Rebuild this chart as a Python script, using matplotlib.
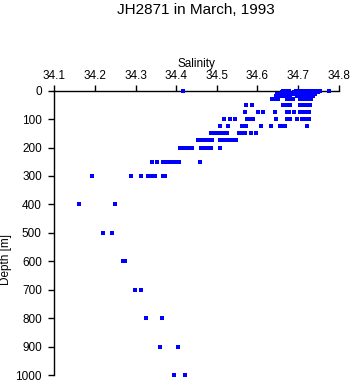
import numpy as np
import matplotlib.pyplot as plt

plt.rcParams['font.family'] = ['Liberation Sans', 'DejaVu Sans']

# Salinity samples, grouped by standard depth (m)
sal_0 = [34.417, 34.664, 34.673, 34.677, 34.694, 34.698, 34.708, 34.715, 34.722,
         34.730, 34.738, 34.745, 34.754, 34.775]
sal_5 = [34.660, 34.668, 34.690, 34.703, 34.712, 34.720, 34.728, 34.736, 34.748]
sal_10 = [34.647, 34.655, 34.675, 34.683, 34.691, 34.700, 34.713, 34.720, 34.727,
          34.734, 34.742]
sal_20 = [34.646, 34.656, 34.661, 34.665, 34.673, 34.680, 34.698, 34.708, 34.715,
          34.722, 34.729, 34.737]
sal_30 = [34.635, 34.643, 34.651, 34.672, 34.680, 34.688, 34.705, 34.712, 34.719,
          34.726, 34.733]
sal_50 = [34.572, 34.586, 34.664, 34.672, 34.680, 34.705, 34.712, 34.718, 34.724,
          34.729]
sal_75 = [34.570, 34.602, 34.614, 34.644, 34.673, 34.678, 34.691, 34.705, 34.711,
          34.717, 34.724, 34.727]
sal_100 = [34.518, 34.532, 34.545, 34.574, 34.581, 34.588, 34.645, 34.672, 34.680,
           34.697, 34.709, 34.715, 34.721, 34.728]
sal_125 = [34.508, 34.528, 34.561, 34.568, 34.573, 34.609, 34.634, 34.655, 34.662,
           34.669, 34.721]
sal_150 = [34.486, 34.494, 34.500, 34.509, 34.516, 34.524, 34.555, 34.562, 34.570,
           34.584, 34.597]
sal_175 = [34.454, 34.460, 34.466, 34.471, 34.479, 34.487, 34.508, 34.515, 34.523,
           34.530, 34.537, 34.547]
sal_200 = [34.410, 34.416, 34.422, 34.428, 34.434, 34.440, 34.462, 34.468, 34.474,
           34.480, 34.485, 34.508]
sal_250 = [34.341, 34.354, 34.368, 34.375, 34.383, 34.390, 34.397, 34.406, 34.459]
sal_300 = [34.194, 34.289, 34.313, 34.330, 34.336, 34.343, 34.349, 34.368, 34.373]
sal_400 = [34.162, 34.250]
sal_500 = [34.221, 34.243]
sal_600 = [34.270, 34.273]
sal_700 = [34.299, 34.314]
sal_800 = [34.326, 34.365]
sal_900 = [34.361, 34.405]
sal_1000 = [34.395, 34.422]

depths = [0, 5, 10, 20, 30, 50, 75, 100, 125, 150, 175, 200, 250, 300,
          400, 500, 600, 700, 800, 900, 1000]
samples = [sal_0, sal_5, sal_10, sal_20, sal_30, sal_50, sal_75, sal_100, sal_125,
           sal_150, sal_175, sal_200, sal_250, sal_300, sal_400, sal_500, sal_600,
           sal_700, sal_800, sal_900, sal_1000]

sal = np.concatenate([np.array(s) for s in samples])
dep = np.concatenate([np.full(len(s), d) for s, d in zip(samples, depths)])

fig = plt.figure(figsize=(3.53, 3.84), dpi=100)
ax = fig.add_axes([0.1538, 0.0234, 0.8057, 0.7404])

ax.plot(sal, dep, ls='none', marker='s', ms=2.5, mew=0, color='#0000ff',
        clip_on=False, zorder=3)

ax.set_xlim(34.1, 34.8)
ax.set_ylim(1000, 0)
ax.set_xticks(np.arange(34.1, 34.81, 0.1))
ax.set_xticklabels(['34.1', '34.2', '34.3', '34.4', '34.5', '34.6', '34.7', '34.8'])
ax.set_yticks(np.arange(0, 1001, 100))
ax.xaxis.tick_top()
ax.xaxis.set_label_position('top')
ax.spines['bottom'].set_visible(False)
ax.spines['right'].set_visible(False)
for s in ['top', 'left']:
    ax.spines[s].set_linewidth(1.0)
ax.tick_params(direction='out', length=4, width=1, labelsize=8.5, pad=2.5)
ax.tick_params(axis='y', pad=5)
ax.set_xlabel('Salinity', fontsize=8.5, labelpad=2)
ax.set_ylabel('Depth [m]', fontsize=8.5)
ax.yaxis.set_label_coords(-0.148, 0.405)
fig.text(0.556, 0.975, 'JH2871 in March, 1993', ha='center', va='center', fontsize=11)

plt.savefig('out.png', dpi=100)
